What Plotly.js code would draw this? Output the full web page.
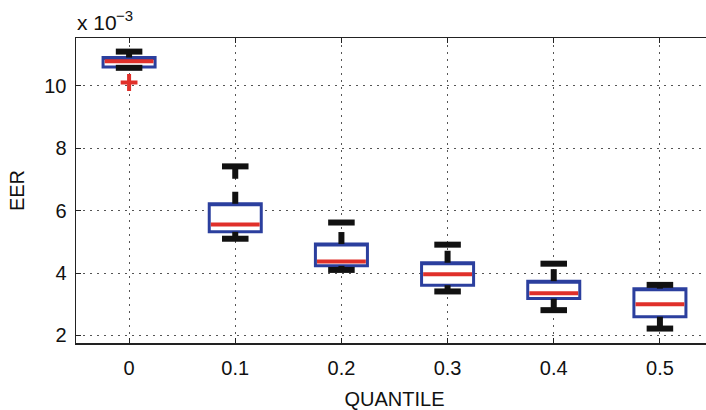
<!DOCTYPE html>
<html>
<head>
<meta charset="utf-8">
<script src="https://cdn.plot.ly/plotly-3.0.1.min.js"></script>
<style>
html, body { margin: 0; padding: 0; overflow: hidden; background: #fff; }
#chart { width: 714px; height: 410px; }
</style>
</head>
<body>
<div id="chart"></div>
<script>
// Data (EER in units of 1e-3)
const quantiles     = [0, 0.1, 0.2, 0.3, 0.4, 0.5];
const tickLabels    = ['0', '0.1', '0.2', '0.3', '0.4', '0.5'];
const lowerWhisker  = [10.58, 5.10, 4.10, 3.41, 2.81, 2.22];
const q1            = [10.61, 5.32, 4.23, 3.61, 3.18, 2.60];
const medians       = [10.79, 5.56, 4.37, 3.96, 3.35, 3.00];
const q3            = [10.91, 6.22, 4.93, 4.33, 3.74, 3.50];
const upperWhisker  = [11.10, 7.42, 5.62, 4.91, 4.30, 3.62];
const outlierX      = [0];
const outlierY      = [10.11];
const yTicks        = [2, 4, 6, 8, 10];

const boxW = 0.049;
const capW = 0.025;
const blue = '#2b3f9e';
const red = '#e0302a';
const black = '#111111';

// whiskers (dashed thick black), from box edge outward
const wx = [], wy = [];
quantiles.forEach((x, i) => {
  wx.push(x, x, null, x, x, null);
  wy.push(q3[i], upperWhisker[i], null, q1[i], lowerWhisker[i], null);
});
// caps
const cx = [], cy = [];
quantiles.forEach((x, i) => {
  cx.push(x - capW / 2, x + capW / 2, null, x - capW / 2, x + capW / 2, null);
  cy.push(upperWhisker[i], upperWhisker[i], null, lowerWhisker[i], lowerWhisker[i], null);
});
// medians
const mx = [], my = [];
quantiles.forEach((x, i) => {
  mx.push(x - boxW / 2 + 0.0015, x + boxW / 2 - 0.0015, null);
  my.push(medians[i], medians[i], null);
});

const traces = [
  { type: 'scatter', mode: 'lines', x: wx, y: wy, connectgaps: false,
    line: { color: black, width: 6, dash: '12px,13px' }, hoverinfo: 'skip', showlegend: false },
  { type: 'box', orientation: 'v', x: quantiles, q1: q1, median: q3, q3: q3,
    lowerfence: q1, upperfence: q3, width: boxW,
    fillcolor: '#ffffff', line: { color: blue, width: 3 }, whiskerwidth: 0,
    hoverinfo: 'skip', showlegend: false },
  { type: 'scatter', mode: 'lines', x: cx, y: cy, connectgaps: false,
    line: { color: black, width: 6 }, hoverinfo: 'skip', showlegend: false },
  { type: 'scatter', mode: 'lines', x: mx, y: my, connectgaps: false,
    line: { color: red, width: 4 }, hoverinfo: 'skip', showlegend: false },
  { type: 'scatter', mode: 'markers', x: outlierX, y: outlierY,
    marker: { symbol: 'cross-thin', size: 12, line: { color: red, width: 4 }, color: red },
    hoverinfo: 'skip', showlegend: false }
];

const FAM = 'Liberation Sans, Arial, sans-serif';
function mkFont(sz) { return { family: FAM, size: sz, color: '#111' }; }

const layout = {
  width: 714, height: 410,
  margin: { l: 76, r: 1, t: 38, b: 67 },
  paper_bgcolor: '#fff', plot_bgcolor: '#fff',
  font: mkFont(20),
  showlegend: false,
  boxmode: 'overlay',
  xaxis: {
    range: [-0.05, 0.55], tickvals: quantiles, ticktext: tickLabels,
    tickfont: mkFont(20),
    showline: true, linecolor: '#222', linewidth: 1.5, mirror: 'ticks',
    ticks: 'inside', ticklen: 5, tickcolor: '#222', tickwidth: 1,
    showgrid: true, gridcolor: '#555', gridwidth: 1, griddash: '2px,5px',
    zeroline: false, ticklabelstandoff: 6,
    title: { text: 'QUANTILE', font: mkFont(20), standoff: 16 }
  },
  yaxis: {
    range: [1.757, 11.536], tickvals: yTicks,
    tickfont: mkFont(20),
    showline: true, linecolor: '#222', linewidth: 1.5, mirror: 'ticks',
    ticks: 'inside', ticklen: 5, tickcolor: '#222', tickwidth: 1,
    showgrid: true, gridcolor: '#555', gridwidth: 1, griddash: '2px,5px',
    zeroline: false, ticklabelstandoff: 4,
    title: { text: 'EER', font: mkFont(20), standoff: 14 }
  },
  annotations: [
    {
      xref: 'paper', yref: 'paper', x: 0, y: 1, xanchor: 'left', yanchor: 'middle',
      xshift: -1, yshift: 16,
      text: 'x 10', showarrow: false, font: mkFont(21)
    },
    {
      xref: 'paper', yref: 'paper', x: 0, y: 1, xanchor: 'left', yanchor: 'middle',
      xshift: 38, yshift: 23,
      text: '\u22123', showarrow: false, font: mkFont(15)
    }
  ]
};

Plotly.newPlot('chart', traces, layout, { staticPlot: true, displayModeBar: false });
</script>
</body>
</html>
